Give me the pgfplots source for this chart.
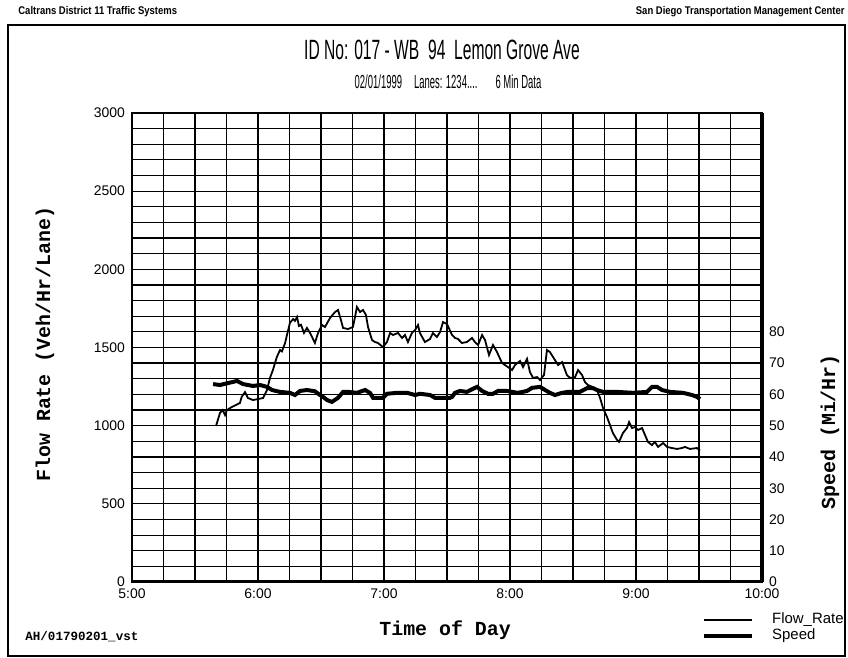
\documentclass[border=0pt]{standalone}
\usepackage{fontspec}
\setmainfont{Liberation Sans}
\newfontfamily\monofont{Liberation Mono}
\newfontfamily\titlefont[FakeStretch=0.56]{Liberation Sans}
\newfontfamily\subfont[FakeStretch=0.5]{Liberation Sans}
\newfontfamily\headfont[FakeStretch=0.85]{Liberation Sans}
\usepackage{pgfplots}
\pgfplotsset{compat=1.18}

% x values: minutes after 5:00
\begin{document}
\begin{tikzpicture}
\useasboundingbox (0,0) rectangle (424bp,329bp);
\draw[line width=0.6pt] (4bp,1bp) rectangle (422.5bp,316.5bp);
\node[anchor=west, font=\headfont\fontsize{5.6}{6}\selectfont\bfseries, inner sep=0pt] at (9bp,323bp) {Caltrans District 11 Traffic Systems};
\node[anchor=east, font=\headfont\fontsize{5.6}{6}\selectfont\bfseries, inner sep=0pt] at (422.5bp,323bp) {San Diego Transportation Management Center};
\node[font=\titlefont\fontsize{14}{16}\selectfont] at (221bp,304bp) {ID No: 017 - WB\ \ 94\ \ Lemon Grove Ave};
\node[font=\subfont\fontsize{9.5}{11}\selectfont] at (224bp,288bp) {02/01/1999\hspace{6bp}Lanes: 1234....\hspace{9bp}6 Min Data};
\node[anchor=west, font=\monofont\bfseries\fontsize{6.3}{8}\selectfont, inner sep=0pt] at (12.5bp,10.5bp) {AH/01790201\_vst};

\begin{axis}[
  at={(66bp,38bp)}, anchor=south west, scale only axis,
  width=315bp, height=234.5bp,
  xmin=0, xmax=300, ymin=0, ymax=3000,
  xtick={0,60,...,300}, xticklabels={5:00,6:00,7:00,8:00,9:00,10:00},
  minor x tick num=3,
  ytick={0,500,...,3000}, minor y tick num=4,
  grid=both,
  major grid style={black, line width=0.6pt},
  minor grid style={black, line width=0.6pt},
  major tick length=0pt, minor tick length=0pt,
  axis line style={black, line width=0.6pt},
  tick label style={font=\fontsize{7}{8}\selectfont},
  /pgf/number format/assume math mode=true,
  /pgf/number format/1000 sep={},
  xlabel={Time of Day},
  xlabel style={at={(axis description cs:0.497,-0.102)}, anchor=center,
    font=\monofont\bfseries\fontsize{10}{12}\selectfont},
  ylabel={Flow Rate (Veh/Hr/Lane)},
  ylabel style={at={(axis description cs:-0.138,0.507)}, anchor=center,
    font=\monofont\bfseries\fontsize{10}{12}\selectfont},
  legend style={at={(axis description cs:0.895,-0.048)}, anchor=north west,
    draw=none, fill=none, font=\fontsize{7.5}{8}\selectfont, row sep=-3bp},
  legend cell align=left,
  legend image code/.code={\draw[#1] (0bp,0bp) -- (24bp,0bp); \path (31bp,0bp);},
]
\addplot[black, line width=0.9pt] coordinates {
(40.0,998) (41.9,1081) (43.2,1100) (44.3,1068) (45.2,1100) (47.6,1120) (49.5,1132)
(51.4,1145) (52.2,1183) (53.8,1215) (55.2,1177) (57.6,1164) (60.0,1170) (62.4,1177)
(64.3,1228) (65.7,1305) (67.1,1356) (69.0,1440) (70.5,1484) (71.4,1475) (72.9,1529)
(73.8,1580) (75.2,1657) (76.7,1682) (77.6,1670) (78.6,1695) (79.5,1638) (80.5,1645)
(81.9,1593) (83.3,1625) (84.8,1593) (87.1,1529) (88.6,1593) (90.5,1644) (91.9,1631)
(94.3,1689) (96.7,1727) (98.1,1740) (99.5,1676) (100.5,1625) (102.9,1618) (105.2,1631)
(106.2,1695) (107.1,1759) (108.6,1727) (110.0,1740) (111.4,1708) (112.4,1631) (114.3,1548)
(115.7,1535) (117.1,1529) (119.5,1503) (121.4,1535) (122.9,1593) (124.3,1580) (126.7,1593)
(128.6,1561) (130.0,1580) (131.4,1535) (133.3,1593) (134.8,1612) (136.2,1644) (137.1,1593)
(139.5,1535) (141.9,1554) (143.3,1593) (145.2,1567) (146.7,1599) (148.1,1663) (150.0,1650)
(152.4,1580) (153.8,1561) (155.2,1555) (157.1,1529) (159.5,1535) (161.9,1561) (163.3,1535)
(164.8,1516) (166.7,1580) (168.1,1548) (170.0,1452) (171.9,1516) (173.8,1471) (176.2,1401)
(177.6,1388) (179.0,1375) (181.0,1356) (182.4,1388) (184.8,1414) (186.2,1375) (188.1,1427)
(189.5,1343) (191.0,1305) (192.9,1311) (194.3,1292) (196.2,1324) (197.6,1484) (199.0,1471)
(201.4,1420) (202.9,1388) (204.8,1407) (207.1,1324) (208.6,1305) (211.0,1311) (212.4,1356)
(214.3,1324) (215.7,1279) (217.1,1260) (219.5,1247) (221.4,1228) (222.9,1177) (224.3,1113)
(226.2,1055) (227.6,1004) (229.0,953) (231.0,908) (231.9,896) (233.8,953) (235.7,985)
(236.7,1023) (238.1,985) (239.5,991) (241.0,972) (242.9,985) (244.3,940) (245.7,896)
(247.6,876) (249.0,896) (250.5,864) (252.9,889) (254.8,864) (257.1,857) (259.5,851)
(261.9,857) (263.3,864) (265.7,851) (269.0,857) (270.5,840)
};
\addlegendentry{Flow\_Rate}
\addlegendimage{black, line width=2pt}
\addlegendentry{Speed}
\draw[black, line width=1.3pt] (axis cs:0,1400) -- (axis cs:300,1400);
\draw[black, line width=1.8pt] (axis cs:0,0) -- (axis cs:300,0);
\end{axis}

\begin{axis}[
  at={(66bp,38bp)}, anchor=south west, scale only axis,
  width=315bp, height=234.5bp,
  xmin=0, xmax=300, ymin=0, ymax=150,
  axis x line=none, axis y line*=right,
  y axis line style={-, black, line width=1.8pt},
  ytick={0,10,...,80},
  major tick length=0pt, minor tick length=0pt,
  tick label style={font=\fontsize{7}{8}\selectfont},
  /pgf/number format/assume math mode=true,
  ylabel={Speed (Mi/Hr)},
  ylabel style={at={(axis description cs:1.108,0.32)}, anchor=center,
    font=\monofont\bfseries\fontsize{10}{12}\selectfont},
]
\addplot[black, line width=2pt] coordinates {
(38.6,63.3) (41.9,63) (48.1,64) (50.0,64.3) (52.9,63.3) (57.6,62.7) (61.0,63)
(64.3,62.4) (66.7,61.4) (70.5,60.8) (75.2,60.5) (77.6,59.8) (80.0,61.1) (83.3,61.4)
(87.1,61) (89.5,59.8) (91.0,59.2) (92.9,58.2) (95.2,57.6) (98.1,58.9) (100.5,60.8)
(102.9,60.8) (107.1,60.5) (111.0,61.4) (113.3,60.5) (114.8,58.9) (119.5,58.9) (121.4,60.2)
(126.2,60.5) (131.0,60.5) (134.8,59.8) (137.1,60.2) (141.9,59.8) (144.3,58.9) (151.4,58.9)
(152.4,59.2) (153.8,60.5) (156.2,61.1) (159.5,60.8) (162.4,61.8) (164.3,62.4) (166.7,61.1)
(169.5,60.2) (171.9,60.2) (174.3,61.1) (178.6,61.1) (181.0,60.8) (183.8,60.5) (188.1,61.1)
(190.5,62.1) (194.3,62.4) (196.7,61.4) (199.0,60.5) (201.4,59.8) (204.8,60.5) (207.6,60.8)
(213.3,60.8) (216.7,62) (219.5,62) (221.4,61.4) (224.3,60.8) (231.0,60.8) (238.6,60.5)
(245.2,60.8) (247.6,62.4) (250.0,62.4) (252.4,61.4) (256.2,60.8) (262.4,60.5) (266.7,59.8)
(269.0,59.2) (270.5,58.5)
};
\end{axis}
\end{tikzpicture}
\end{document}
